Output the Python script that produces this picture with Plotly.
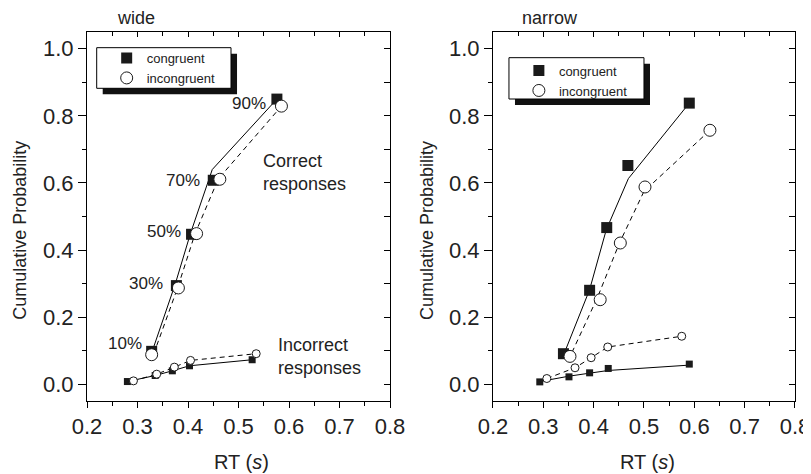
import plotly.graph_objects as go

# ---------------- data ----------------
# WIDE panel — correct responses (quantiles 10,30,50,70,90 %)
wide_cor_con_rt = [0.328, 0.377, 0.407, 0.450, 0.576]
wide_cor_con_p = [0.098, 0.294, 0.447, 0.608, 0.850]
wide_cor_inc_rt = [0.328, 0.381, 0.417, 0.463, 0.585]
wide_cor_inc_p = [0.088, 0.287, 0.449, 0.611, 0.829]
# model fits (lines)
wide_fit_con_rt = [0.330, 0.375, 0.405, 0.448, 0.576]
wide_fit_con_p = [0.102, 0.300, 0.450, 0.640, 0.850]
wide_fit_inc_rt = [0.332, 0.380, 0.414, 0.460, 0.585]
wide_fit_inc_p = [0.090, 0.290, 0.449, 0.612, 0.829]
# WIDE panel — incorrect responses
wide_err_con_rt = [0.280, 0.335, 0.369, 0.403, 0.527]
wide_err_con_p = [0.008, 0.026, 0.040, 0.055, 0.073]
wide_err_inc_rt = [0.292, 0.338, 0.373, 0.405, 0.535]
wide_err_inc_p = [0.010, 0.030, 0.051, 0.071, 0.091]

# NARROW panel — correct responses
nar_cor_con_rt = [0.340, 0.392, 0.426, 0.468, 0.590]
nar_cor_con_p = [0.091, 0.280, 0.467, 0.652, 0.838]
nar_cor_inc_rt = [0.353, 0.413, 0.453, 0.502, 0.631]
nar_cor_inc_p = [0.083, 0.252, 0.421, 0.588, 0.757]
nar_fit_con_rt = [0.345, 0.392, 0.425, 0.469, 0.590]
nar_fit_con_p = [0.105, 0.282, 0.460, 0.613, 0.838]
nar_fit_inc_rt = [0.357, 0.408, 0.451, 0.500, 0.631]
nar_fit_inc_p = [0.095, 0.260, 0.420, 0.575, 0.757]
# NARROW panel — incorrect responses
nar_err_con_rt = [0.293, 0.351, 0.392, 0.429, 0.590]
nar_err_con_p = [0.007, 0.022, 0.034, 0.047, 0.060]
nar_err_inc_rt = [0.307, 0.363, 0.395, 0.428, 0.575]
nar_err_inc_p = [0.017, 0.049, 0.079, 0.111, 0.143]
nar_errfit_con_p = [0.008, 0.024, 0.033, 0.041, 0.057]

quantile_labels = ["10%", "30%", "50%", "70%", "90%"]
panel_titles = ["wide", "narrow"]
legend_names = ["congruent", "incongruent"]
x_title = "RT (<i>s</i>)"
y_title = "Cumulative Probability"

# ---------------- figure ----------------
FONT = "Liberation Sans, Arial, Helvetica, sans-serif"
TXT = "#222"
fig = go.Figure()

dom_l = [0.0, 0.428]
dom_r = [0.5734, 1.0]

def add_line(x, y, xa, ya, dash):
    fig.add_trace(go.Scatter(x=x, y=y, mode="lines", xaxis=xa, yaxis=ya,
                             line=dict(color="black", width=1, dash=dash),
                             showlegend=False, hoverinfo="skip"))

def add_pts(x, y, xa, ya, symbol, size, name=None, legend=None):
    filled = symbol == "square"
    fig.add_trace(go.Scatter(
        x=x, y=y, mode="markers", xaxis=xa, yaxis=ya, name=name,
        marker=dict(symbol=symbol, size=size,
                    color="#1a1a1a" if filled else "white",
                    line=dict(color="#1a1a1a", width=0 if filled else 1)),
        showlegend=name is not None, legend=legend))

# left panel
add_line(wide_fit_con_rt, wide_fit_con_p, "x", "y", "solid")
add_line(wide_fit_inc_rt, wide_fit_inc_p, "x", "y", "5px,4px")
add_line(wide_err_con_rt, wide_err_con_p, "x", "y", "solid")
add_line(wide_err_inc_rt, wide_err_inc_p, "x", "y", "5px,4px")
add_pts(wide_err_con_rt, wide_err_con_p, "x", "y", "square", 7)
add_pts(wide_err_inc_rt, wide_err_inc_p, "x", "y", "circle", 8)
add_pts(wide_cor_con_rt, wide_cor_con_p, "x", "y", "square", 11, legend_names[0], "legend")
add_pts(wide_cor_inc_rt, wide_cor_inc_p, "x", "y", "circle", 12, legend_names[1], "legend")

# right panel
add_line(nar_fit_con_rt, nar_fit_con_p, "x2", "y2", "solid")
add_line(nar_fit_inc_rt, nar_fit_inc_p, "x2", "y2", "5px,4px")
add_line(nar_err_con_rt, nar_errfit_con_p, "x2", "y2", "solid")
add_line(nar_err_inc_rt, nar_err_inc_p, "x2", "y2", "5px,4px")
add_pts(nar_err_con_rt, nar_err_con_p, "x2", "y2", "square", 7)
add_pts(nar_err_inc_rt, nar_err_inc_p, "x2", "y2", "circle", 8)
add_pts(nar_cor_con_rt, nar_cor_con_p, "x2", "y2", "square", 11, legend_names[0], "legend2")
add_pts(nar_cor_inc_rt, nar_cor_inc_p, "x2", "y2", "circle", 12, legend_names[1], "legend2")

# dummy traces for the inward-tick overlay axes (top / right)
for xa, ya in [("x3", "y3"), ("x4", "y4")]:
    fig.add_trace(go.Scatter(x=[None], y=[None], xaxis=xa, yaxis=ya,
                             showlegend=False, hoverinfo="skip"))

XR = [0.2, 0.8]
YR = [-0.05, 1.05]
tickfont = dict(family=FONT, size=22, color=TXT)

def xaxis_main(domain, anchor):
    return dict(domain=domain, anchor=anchor, range=XR, showgrid=False, zeroline=False,
                automargin=False, showline=True, linecolor="black", linewidth=1,
                tickmode="linear", tick0=0.2, dtick=0.1, tickformat=".1f",
                ticks="outside", ticklen=6, tickcolor="black", ticklabeloverflow="allow",
                minor=dict(dtick=0.05, ticks="outside", ticklen=4, tickcolor="black"),
                tickfont=tickfont)

def yaxis_main(anchor):
    return dict(domain=[0, 1], anchor=anchor, range=YR, showgrid=False, zeroline=False,
                automargin=False, showline=True, linecolor="black", linewidth=1,
                tickmode="linear", tick0=0, dtick=0.2, tickformat=".1f",
                ticks="outside", ticklen=8, tickcolor="black", ticklabeloverflow="allow",
                minor=dict(dtick=0.1, ticks="outside", ticklen=4, tickcolor="black"),
                tickfont=tickfont)

def xaxis_top(over, anchor):
    return dict(overlaying=over, anchor=anchor, side="top", range=XR, showgrid=False,
                automargin=False, zeroline=False, showline=True, linecolor="black", linewidth=1,
                tickmode="linear", tick0=0.2, dtick=0.1, ticks="inside", ticklen=5,
                tickcolor="black", showticklabels=False,
                minor=dict(dtick=0.05, ticks="inside", ticklen=4, tickcolor="black"))

def yaxis_right(over, anchor):
    return dict(overlaying=over, anchor=anchor, side="right", range=YR, showgrid=False,
                automargin=False, zeroline=False, showline=True, linecolor="black", linewidth=1,
                tickmode="linear", tick0=0, dtick=0.1, ticks="inside", ticklen=6,
                tickcolor="black", showticklabels=False)

legend_common = dict(bgcolor="rgba(0,0,0,0)", borderwidth=0,
                     font=dict(family=FONT, size=13, color=TXT),
                     xanchor="left", yanchor="top", tracegroupgap=0)

# the page body adds an 8px offset, so the figure is 8px smaller than the window
fig.update_layout(
    width=803, height=466,
    margin=dict(l=79, r=16, t=24, b=73, autoexpand=False),
    paper_bgcolor="white", plot_bgcolor="white",
    font=dict(family=FONT, color=TXT),
    xaxis=xaxis_main(dom_l, "y"),
    yaxis=yaxis_main("x"),
    xaxis2=xaxis_main(dom_r, "y2"),
    yaxis2=yaxis_main("x2"),
    xaxis3=xaxis_top("x", "y"),
    yaxis3=yaxis_right("y", "x"),
    xaxis4=xaxis_top("x2", "y2"),
    yaxis4=yaxis_right("y2", "x2"),
    legend=dict(x=0.0278, y=0.970, **legend_common),
    legend2=dict(x=0.610, y=0.936, **legend_common),
    showlegend=True,
)

# legend boxes with drop shadows
boxes = [
    (0.0137, 0.2034, 0.8474, 0.9575, 0.0085, 0.0162),
    (0.5960, 0.7867, 0.8184, 0.9304, 0.0085, 0.0162),
]
for x0, x1, y0, y1, dx, dy in boxes:
    fig.add_shape(type="rect", xref="paper", yref="paper",
                  x0=x0 + dx, x1=x1 + dx, y0=y0 - dy, y1=y1 - dy,
                  fillcolor="#111", line=dict(width=0), layer="above")
    fig.add_shape(type="rect", xref="paper", yref="paper",
                  x0=x0, x1=x1, y0=y0, y1=y1,
                  fillcolor="white", line=dict(color="black", width=1), layer="above")

# axis titles as annotations
for xc in [0.2185, 0.7917]:
    fig.add_annotation(text=x_title, xref="paper", yref="paper", x=xc, y=-0.165,
                       xanchor="center", yanchor="middle", showarrow=False,
                       font=dict(family=FONT, size=20, color=TXT))
for xc in [-0.0951, 0.480]:
    fig.add_annotation(text=y_title, xref="paper", yref="paper", x=xc, y=0.463,
                       xanchor="center", yanchor="middle", textangle=-90, showarrow=False,
                       font=dict(family=FONT, size=18, color=TXT))

# panel titles
fig.add_annotation(text=panel_titles[0], xref="paper", yref="paper", x=0.0395, y=1.0,
                   yshift=14, xanchor="left", yanchor="middle", showarrow=False,
                   font=dict(family=FONT, size=18, color=TXT))
fig.add_annotation(text=panel_titles[1], xref="paper", yref="paper", x=0.6116, y=1.0,
                   yshift=14, xanchor="left", yanchor="middle", showarrow=False,
                   font=dict(family=FONT, size=18, color=TXT))

# quantile labels (wide panel)
q_lab_x = [0.312, 0.355, 0.391, 0.427, 0.558]
q_lab_y = [0.120, 0.299, 0.454, 0.608, 0.836]
for t, xx, yy in zip(quantile_labels, q_lab_x, q_lab_y):
    fig.add_annotation(text=t, x=xx, y=yy, xref="x", yref="y", xanchor="right",
                       yanchor="middle", showarrow=False,
                       font=dict(family=FONT, size=17, color=TXT))

fig.add_annotation(text="Correct<br>responses", x=0.545, y=0.632, xref="x", yref="y",
                   xanchor="left", yanchor="middle", align="left", showarrow=False,
                   font=dict(family=FONT, size=18, color=TXT))
fig.add_annotation(text="Incorrect<br>responses", x=0.574, y=0.083, xref="x", yref="y",
                   xanchor="left", yanchor="middle", align="left", showarrow=False,
                   font=dict(family=FONT, size=18, color=TXT))

fig.write_html("out.html")
